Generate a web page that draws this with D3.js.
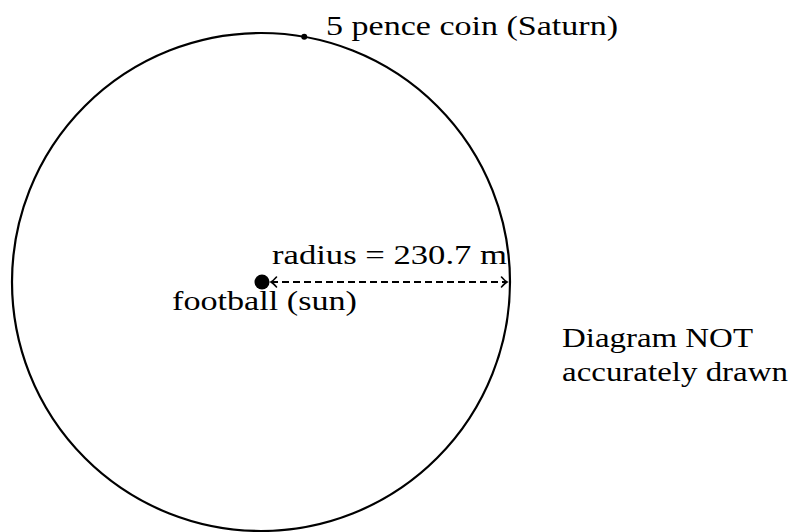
<!DOCTYPE html>
<html><head><meta charset="utf-8">
<script src="https://cdn.jsdelivr.net/npm/d3@7"></script>
<style>html,body{margin:0;padding:0;background:#fff}svg{display:block}</style>
</head><body>
<script>
// Data
const orbitRadius = [230.7];            // metres
const bodies = ["football (sun)", "5 pence coin (Saturn)"];
const saturnAngleDeg = [80];            // angle of coin on orbit (deg from +x)
const radiusLabel = ["radius = 230.7 m"];
const noteLines = ["Diagram NOT", "accurately drawn"];

const W = 798, H = 532;
const svg = d3.select("body").append("svg").attr("width", W).attr("height", H);
const cx = 261, cy = 282;
const r = d3.scaleLinear().domain([0, orbitRadius[0]]).range([0, 249]);
const R = r(orbitRadius[0]);
const font = "Liberation Serif, Times New Roman, Times, serif";

const defs = svg.append("defs");
function arrowMarker(id, dir) {
  const m = defs.append("marker").attr("id", id).attr("viewBox", "-10 -10 20 20")
    .attr("markerWidth", 20).attr("markerHeight", 20).attr("markerUnits", "userSpaceOnUse")
    .attr("refX", 0).attr("refY", 0).attr("orient", "auto");
  m.append("path").attr("d", dir > 0 ? "M-5.5,-5 Q-2,-1 0,0 Q-2,1 -5.5,5" : "M5.5,-5 Q2,-1 0,0 Q2,1 5.5,5")
    .attr("fill", "none").attr("stroke", "#000").attr("stroke-width", 1.6).attr("stroke-linecap", "round");
}
arrowMarker("ah-end", 1);
arrowMarker("ah-start", -1);

// orbit
svg.append("circle").attr("cx", cx).attr("cy", cy).attr("r", R)
  .attr("fill", "none").attr("stroke", "#000").attr("stroke-width", 2.2);

// radius arrow
svg.append("line").attr("x1", cx + 10).attr("y1", cy).attr("x2", cx + R - 3).attr("y2", cy)
  .attr("stroke", "#000").attr("stroke-width", 1.8).attr("stroke-dasharray", "7,4")
  .attr("marker-start", "url(#ah-start)").attr("marker-end", "url(#ah-end)");

// sun
svg.append("circle").attr("cx", cx + 1).attr("cy", cy).attr("r", 7.5).attr("fill", "#000");

// Saturn
const a = saturnAngleDeg[0] * Math.PI / 180;
const sx = cx + R * Math.cos(a), sy = cy - R * Math.sin(a);
svg.append("circle").attr("cx", sx).attr("cy", sy).attr("r", 3).attr("fill", "#000");

function txt(s, x, y, len) {
  svg.append("text").attr("x", x).attr("y", y).text(s)
    .attr("font-family", font).attr("font-size", 28).attr("fill", "#000")
    .attr("textLength", len).attr("lengthAdjust", "spacingAndGlyphs");
}
txt(bodies[1], 326, 35, 292);
txt(radiusLabel[0], 272, 264, 235);
txt(bodies[0], 172, 310, 185);
txt(noteLines[0], 562, 347, 191);
txt(noteLines[1], 562, 381, 226);
</script>
</body></html>
